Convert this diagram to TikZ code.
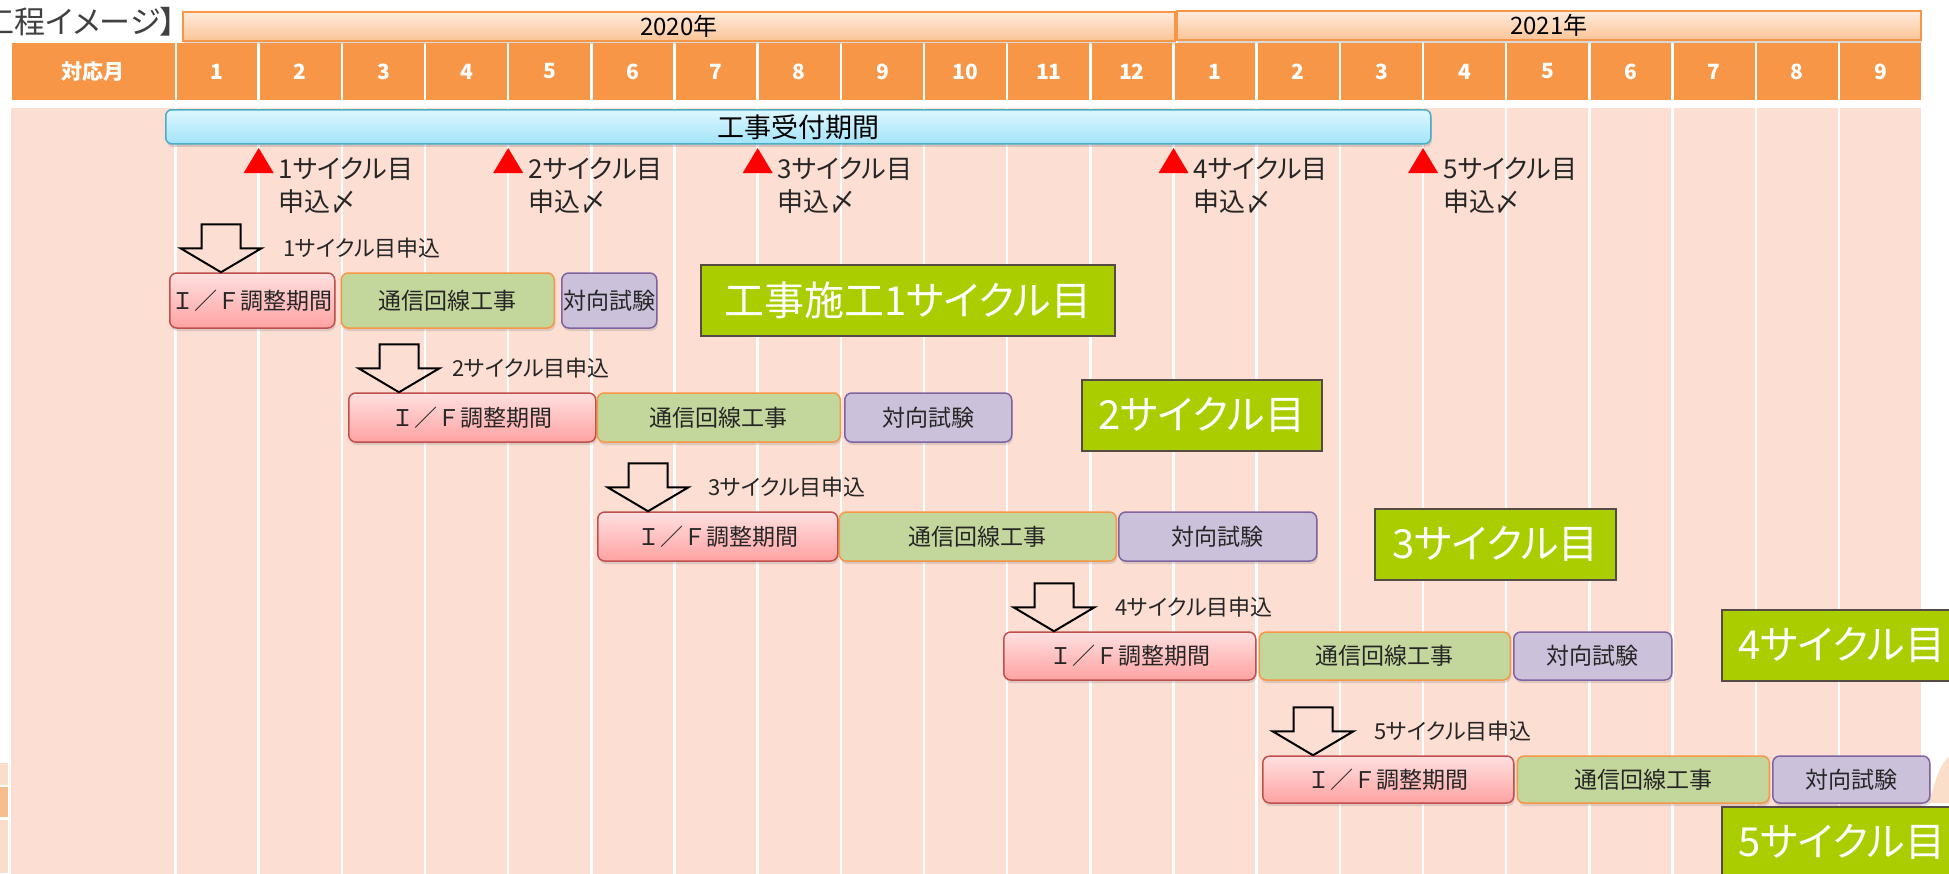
\documentclass[tikz,border=0pt]{standalone}
\usepackage{fontspec}
\setmainfont{Noto Sans CJK JP}
\newfontfamily\jpp[RawFeature=+palt]{Noto Sans CJK JP}
\usetikzlibrary{positioning,calc,shadows}

\definecolor{hdorange}{RGB}{247,150,70}
\definecolor{bodypink}{RGB}{252,222,210}
\definecolor{yeartop}{RGB}{254,236,222}
\definecolor{yearbot}{RGB}{251,196,150}
\definecolor{rcvtop}{RGB}{222,247,254}
\definecolor{rcvbot}{RGB}{162,228,250}
\definecolor{rcvline}{RGB}{75,172,198}
\definecolor{iftop}{RGB}{255,224,224}
\definecolor{ifbot}{RGB}{255,162,162}
\definecolor{ifline}{RGB}{192,80,77}
\definecolor{linefill}{RGB}{195,214,155}
\definecolor{testfill}{RGB}{204,193,218}
\definecolor{testline}{RGB}{128,100,162}
\definecolor{cyclegreen}{RGB}{170,205,0}
\definecolor{cycleline}{RGB}{85,75,70}
\definecolor{txtgray}{RGB}{38,38,38}
\definecolor{titlegray}{RGB}{64,64,64}
\definecolor{decolight}{RGB}{250,222,202}
\definecolor{decodark}{RGB}{245,190,140}

\def\colw{83.17}

\begin{document}
\begin{tikzpicture}[x=1pt, y=-1pt, inner sep=0pt,
  month/.style={fill=hdorange, text=white, minimum width=\colw-2.5, minimum height=57,
    font=\bfseries\fontsize{21}{24}\selectfont},
  yearbar/.style={draw=hdorange, line width=1.5, top color=yeartop, bottom color=yearbot,
    minimum height=29, drop shadow={shadow xshift=1pt, shadow yshift=-3pt, opacity=.3},
    font=\fontsize{24}{26}\selectfont},
  rcvbar/.style={draw=rcvline, line width=1.5, rounded corners=6, top color=rcvtop,
    bottom color=rcvbot, minimum height=34, drop shadow={shadow xshift=1pt, shadow yshift=-3pt, opacity=.3},
    font=\fontsize{27}{30}\selectfont},
  task/.style={rounded corners=7, line width=1.5, text=txtgray, anchor=west,
    drop shadow={shadow xshift=1pt, shadow yshift=-3pt, opacity=.25},
    font=\fontsize{23}{26}\selectfont},
  ifbox/.style={task, draw=ifline, top color=iftop, bottom color=ifbot},
  linebox/.style={task, draw=hdorange, fill=linefill},
  testbox/.style={task, draw=testline, fill=testfill},
  cyc/.style={fill=cyclegreen, draw=cycleline, line width=1.5, text=white, anchor=north west,
    minimum height=71, font=\jpp\fontsize{40}{44}\selectfont},
  applab/.style={anchor=west, text=txtgray, font=\jpp\fontsize{22}{26}\selectfont},
  duelab/.style={anchor=west, align=left, text=txtgray, font=\jpp\fontsize{26}{33}\selectfont},
  downarr/.pic={\draw[line width=2] (0,0) -- (-40.5,-24) -- (-19.5,-24) -- (-19.5,-48)
    -- (19.5,-48) -- (19.5,-24) -- (40.5,-24) -- cycle;}]

\useasboundingbox (0,0) rectangle (1949,873);

% page edge pieces
\fill[decolight] (0,763) rectangle (8,785);
\fill[decodark] (0,787) rectangle (8,817);
\fill[decolight] (0,820) rectangle (8,873);
\fill[decolight] (1929,803) .. controls (1936,775) and (1942,762) .. (1949,757) -- (1949,803) -- cycle;

\node[anchor=east, text=titlegray, font=\jpp\fontsize{31}{34}\selectfont] (title) at (176,22) {【工程イメージ】};

% years
\node[yearbar, anchor=north west, minimum width=992] (y2020) at (182,11) {2020年};
\node[yearbar, anchor=north west, minimum width=744] (y2021) at (1176,10) {2021年};

% month header
\node[month, anchor=west, minimum width=162.5] (hdm) at (12,71.5) {対応月};
\foreach \m [count=\i from 0] in {1,2,3,4,5,6,7,8,9,10,11,12,1,2,3,4,5,6,7,8,9}
  \node[month] (hd\i) at ({175.5+(\i+0.5)*\colw},71.5) {\m};

% body
\fill[bodypink] (11,108) rectangle (1921,880);
\foreach \i in {0,...,20}
  \draw[white, line width=2.5] ({175.5+\i*\colw},108) -- ++(0,772);

\node[rcvbar, anchor=north west, minimum width=1265] (rcv) at (165,109) {工事受付期間};

% deadlines
\foreach \i/\k in {1/1,4/2,7/3,12/4,15/5}{
  \coordinate (due\k) at ({175.5+\i*\colw},173);
  \fill[red] (due\k) ++(-15,0) -- ++(15,-25) -- ++(15,25) -- cycle;
  \node[duelab] (duetxt\k) at ($(due\k)+(20,13)$) {\k サイクル目\\申込〆};
}

% cycle 1
\node[ifbox, minimum width=165, minimum height=55] (if1) at (169,300.5) {Ｉ／Ｆ調整期間};
\node[linebox, right=5pt of if1, minimum width=213, minimum height=55] (kai1) {通信回線工事};
\node[testbox, right=6pt of kai1, minimum width=95, minimum height=55] (tai1) {対向試験};
\pic at ($(if1.north west)+(52,0)$) {downarr};
\node[applab] (app1) at ($(if1.north west)+(114,-24)$) {1サイクル目申込};
\node[cyc, minimum width=414] (cyc1) at (700,264) {工事施工1サイクル目};

% cycle 2
\node[ifbox, minimum width=247, minimum height=49] (if2) at (348,417.5) {Ｉ／Ｆ調整期間};
\node[linebox, right=0pt of if2, minimum width=243, minimum height=49] (kai2) {通信回線工事};
\node[testbox, right=3pt of kai2, minimum width=167, minimum height=49] (tai2) {対向試験};
\pic at ($(if2.north west)+(51,0)$) {downarr};
\node[applab] (app2) at ($(if2.north west)+(104,-24)$) {2サイクル目申込};
\node[cyc, minimum width=240] (cyc2) at (1081,379) {2サイクル目};

% cycle 3
\node[ifbox, minimum width=240, minimum height=49] (if3) at (597,536.5) {Ｉ／Ｆ調整期間};
\node[linebox, right=0pt of if3, minimum width=277, minimum height=49] (kai3) {通信回線工事};
\node[testbox, right=1pt of kai3, minimum width=198, minimum height=49] (tai3) {対向試験};
\pic at ($(if3.north west)+(51,0)$) {downarr};
\node[applab] (app3) at ($(if3.north west)+(111,-24)$) {3サイクル目申込};
\node[cyc, minimum width=241] (cyc3) at (1374,508) {3サイクル目};

% cycle 4
\node[ifbox, minimum width=252, minimum height=48] (if4) at (1003,656) {Ｉ／Ｆ調整期間};
\node[linebox, right=2pt of if4, minimum width=251, minimum height=48] (kai4) {通信回線工事};
\node[testbox, right=2pt of kai4, minimum width=158, minimum height=48] (tai4) {対向試験};
\pic at ($(if4.north west)+(51,0)$) {downarr};
\node[applab] (app4) at ($(if4.north west)+(112,-24)$) {4サイクル目申込};
\node[cyc, minimum width=240] (cyc4) at (1721,609) {4サイクル目};

% cycle 5
\node[ifbox, minimum width=251, minimum height=47] (if5) at (1262,779.5) {Ｉ／Ｆ調整期間};
\node[linebox, right=2pt of if5, minimum width=252, minimum height=47] (kai5) {通信回線工事};
\node[testbox, right=2pt of kai5, minimum width=157, minimum height=47] (tai5) {対向試験};
\pic at ($(if5.north west)+(51,0)$) {downarr};
\node[applab] (app5) at ($(if5.north west)+(112,-24)$) {5サイクル目申込};
\node[cyc, minimum width=240] (cyc5) at (1721,806) {5サイクル目};

\end{tikzpicture}
\end{document}
